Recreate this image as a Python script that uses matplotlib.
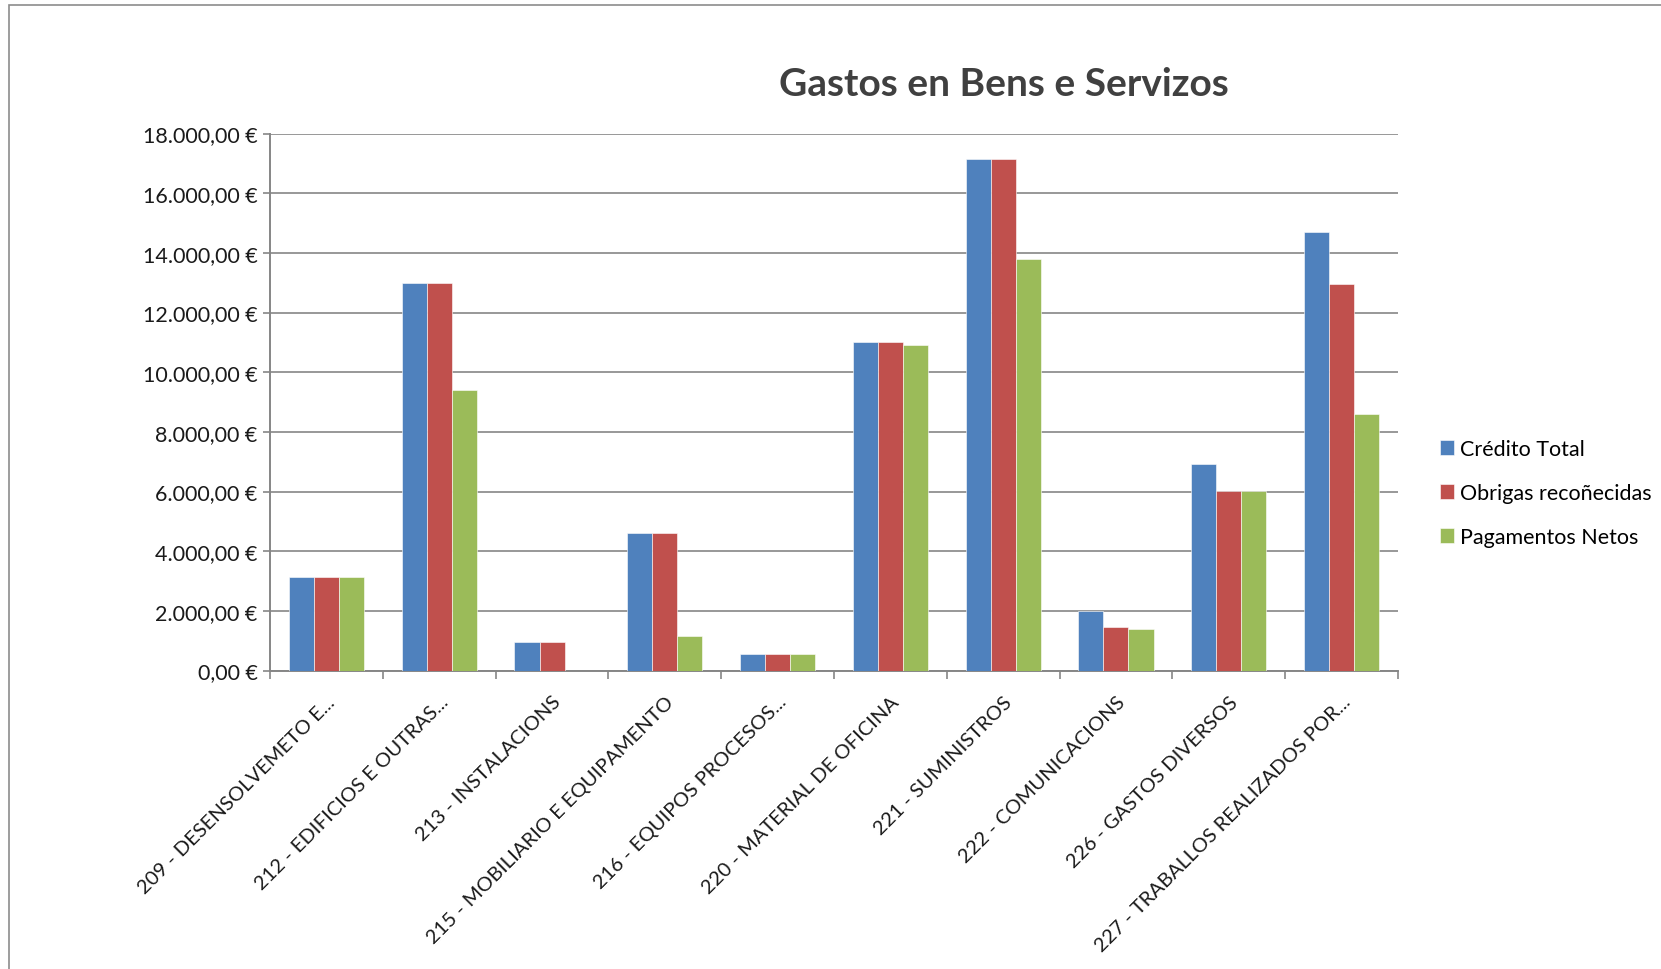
import numpy as np
import matplotlib
matplotlib.use("Agg")
import matplotlib.pyplot as plt
from matplotlib.ticker import FuncFormatter, FixedLocator
from matplotlib.patches import Rectangle

plt.rcParams["font.family"] = ["Lato", "DejaVu Sans"]

categories = ["209 - DESENSOLVEMETO E...", "212 - EDIFICIOS E OUTRAS...",
              "213 - INSTALACIONS", "215 - MOBILIARIO E EQUIPAMENTO",
              "216 - EQUIPOS PROCESOS...", "220 - MATERIAL DE OFICINA",
              "221 - SUMINISTROS", "222 - COMUNICACIONS",
              "226 - GASTOS DIVERSOS", "227 - TRABALLOS REALIZADOS POR..."]
credito_total = [3150, 13000, 950, 4600, 560, 11000, 17140, 2000, 6920, 14710]
obrigas_reconecidas = [3150, 13000, 950, 4600, 560, 11000, 17140, 1450, 6030, 12970]
pagamentos_netos = [3150, 9390, 0, 1150, 560, 10900, 13810, 1400, 6030, 8590]
series_names = ["Crédito Total", "Obrigas recoñecidas", "Pagamentos Netos"]
colors = ["#4F81BD", "#C0504D", "#9BBB59"]
yticks = np.arange(0, 18001, 2000)

GRID = "#868686"


def euro(v, pos=None):
    s = f"{v:,.2f}".replace(",", "X").replace(".", ",").replace("X", ".")
    return s + " €"


fig = plt.figure(figsize=(16.61, 9.70), dpi=100)
ax = fig.add_axes([0.1626, 0.3077, 0.679, 0.5536])

x = np.arange(len(categories))
w = 1 / 4.5
for i, (vals, name, c) in enumerate(zip([credito_total, obrigas_reconecidas, pagamentos_netos],
                                        series_names, colors)):
    ax.bar(x + (i - 1) * w, vals, width=w, color=c, label=name,
           edgecolor="white", linewidth=0.4, zorder=3)

ax.set_xlim(-0.5, len(categories) - 0.5)
ax.set_ylim(0, 18000)
ax.set_yticks(yticks)
ax.yaxis.set_major_formatter(FuncFormatter(euro))
ax.grid(axis="y", color=GRID, linewidth=1.2, zorder=0)

for s in ["top", "right"]:
    ax.spines[s].set_visible(False)
for s in ["left", "bottom"]:
    ax.spines[s].set_color(GRID)
    ax.spines[s].set_linewidth(1.4)

ax.tick_params(axis="y", length=5, width=1.2, color=GRID, labelsize=15.5,
               labelcolor="#1a1a1a", pad=4)
ax.set_xticks(x)
ax.set_xticklabels(categories, rotation=45, ha="right", va="top",
                   rotation_mode="anchor", fontsize=14.5, color="#1a1a1a")
ax.tick_params(axis="x", which="major", length=0, pad=16)
ax.xaxis.set_minor_locator(FixedLocator(np.arange(-0.5, len(categories), 1.0)))
ax.tick_params(axis="x", which="minor", length=6, width=1.2, color=GRID)

fig.text(1004 / 1661, 1 - 84 / 970, "Gastos en Bens e Servizos", ha="center", va="center",
         fontsize=28, fontweight="bold", color="#404040")

fig.legend(loc="center left", bbox_to_anchor=(1440 / 1661, 1 - 494 / 970),
           frameon=False, fontsize=15.5, handlelength=0.65, handleheight=0.65,
           handletextpad=0.3, labelspacing=1.12, borderaxespad=0, borderpad=0)

fig.patches.append(Rectangle((8.5 / 1661, -0.05), 1.1, 1 - 6.4 / 970 + 0.05,
                             transform=fig.transFigure, fill=False,
                             edgecolor="#8c8c8c", linewidth=1.2))

fig.savefig("out.png", dpi=100)
